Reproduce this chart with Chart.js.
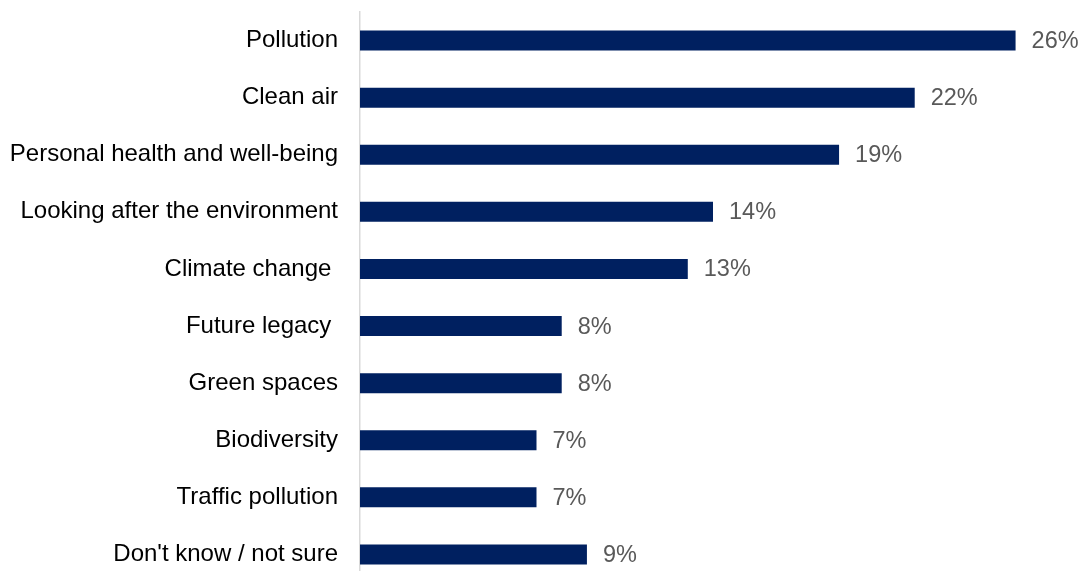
<!DOCTYPE html>
<html>
<head>
<meta charset="utf-8">
<script src="https://cdn.jsdelivr.net/npm/chart.js@4"></script>
<style>
  html, body { margin: 0; padding: 0; background: #fff; overflow: hidden; }
  #wrap { width: 1080px; height: 571px; overflow: hidden; }
  canvas { display: block; }
</style>
</head>
<body>
<div id="wrap"><canvas id="chart" width="1080" height="584"></canvas></div>
<script>
// categories and percentages
const categories = [
  "Pollution",
  "Clean air",
  "Personal health and well-being",
  "Looking after the environment",
  "Climate change ",
  "Future legacy ",
  "Green spaces",
  "Biodiversity",
  "Traffic pollution",
  "Don't know / not sure"
];
const percentages = [26, 22, 19, 14, 13, 8, 8, 7, 7, 9];

const FONT = "Arial, 'Liberation Sans', sans-serif";

// draw the % value at the end of each bar
const valueLabels = {
  id: "valueLabels",
  afterDatasetsDraw(chart) {
    const ctx = chart.ctx;
    const meta = chart.getDatasetMeta(0);
    ctx.save();
    ctx.font = "23.5px " + FONT;
    ctx.fillStyle = "#595959";
    ctx.textAlign = "left";
    ctx.textBaseline = "middle";
    meta.data.forEach((bar, i) => {
      ctx.fillText(percentages[i] + "%", bar.x + 16, bar.y + 1);
    });
    ctx.restore();
  }
};

new Chart("chart", {
  type: "bar",
  data: {
    labels: categories,
    datasets: [
      {
        data: percentages,
        backgroundColor: "#002060",
        borderWidth: 0,
        barPercentage: 0.35,
        categoryPercentage: 1
      }
    ]
  },
  plugins: [valueLabels],
  options: {
    indexAxis: "y",
    responsive: false,
    animation: false,
    layout: { padding: { top: 12, right: 14, bottom: 1, left: 0 } },
    plugins: {
      legend: { display: false },
      tooltip: { enabled: false }
    },
    scales: {
      x: {
        display: false,
        min: 0,
        max: 28
      },
      y: {
        // fixed label column, no extra room above/below the bars
        afterFit: function (scale) {
          scale.width = 360;
          scale.paddingTop = 0;
          scale.paddingBottom = 0;
        },
        grid: { display: false, drawTicks: false },
        border: { display: true, color: "#d9d9d9", width: 1.5 },
        ticks: {
          color: "#000000",
          padding: 22,
          font: { family: FONT, size: 24 }
        }
      }
    }
  }
});
</script>
</body>
</html>
